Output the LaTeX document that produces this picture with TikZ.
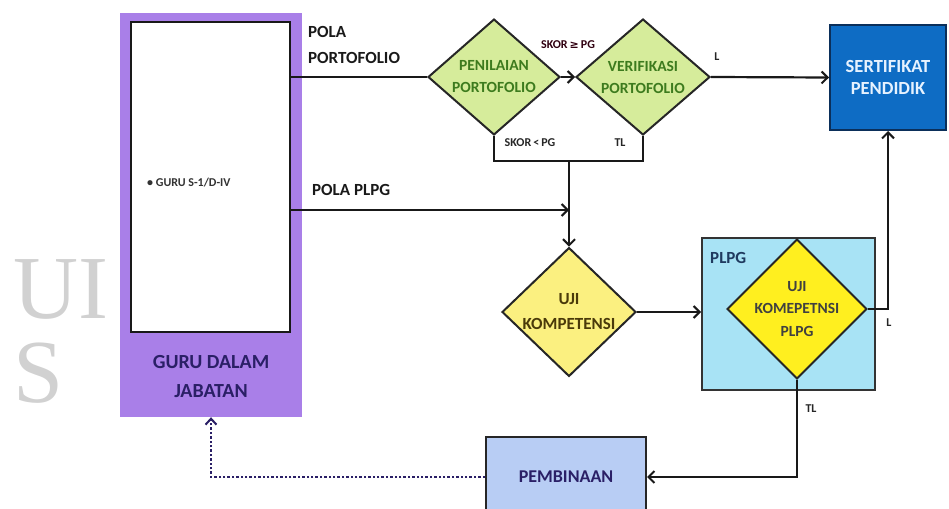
\documentclass[tikz,border=0pt]{standalone}
\usepackage{fontspec}
\setmainfont{Carlito}
\newfontfamily\symfont{DejaVu Sans}
\newfontfamily\wmfont{Liberation Serif}
\usetikzlibrary{shapes.geometric,arrows.meta}
\definecolor{purplebox}{HTML}{A97FE8}
\definecolor{navytext}{HTML}{2A1F66}
\definecolor{greenfill}{HTML}{D6EC9B}
\definecolor{greentext}{HTML}{3D7B1E}
\definecolor{yellowfill}{HTML}{FBF080}
\definecolor{yellowbright}{HTML}{FFEF1F}
\definecolor{olivetext}{HTML}{4A3A0A}
\definecolor{plpgfill}{HTML}{A8E3F5}
\definecolor{sertfill}{HTML}{0E6CC4}
\definecolor{sertborder}{HTML}{0B2F5A}
\definecolor{serttext}{HTML}{E6F2FF}
\definecolor{pembfill}{HTML}{B8CDF4}
\definecolor{plpgtext}{HTML}{1F3A5F}
\begin{document}
\begin{tikzpicture}[x=1pt,y=-1pt,
  conn/.style={line width=2.2pt, draw=black!90},
  arr/.style={conn, -{Straight Barb[length=6pt,width=12pt,line width=2pt]}},
  dotarr/.style={line width=2.4pt, draw=navytext, dotted, -{Straight Barb[length=6pt,width=11pt,line width=2pt]}},
  dia/.style={diamond, draw=black!85, line width=2pt, inner sep=0pt, align=center},
  lbl/.style={font=\bfseries\fontsize{12}{14}\selectfont, inner sep=0pt, text=black!85},
  bigtext/.style={font=\bfseries\fontsize{17}{26}\selectfont, inner sep=0pt, align=left, text=black!90},
  wm/.style={font=\wmfont\fontsize{90}{90}\selectfont, text=black!18, inner sep=0pt, anchor=base west, text depth=0pt, text height=60pt}
]
\clip (0,0) rectangle (949,508);
% watermark
\node[wm] (wm1) at (13,318) {UI};
\node[wm] (wm2) at (13,402) {S};

% guru box
\node[fill=purplebox, minimum width=182pt, minimum height=404pt, inner sep=0pt] (guru) at (211,215) {};
\node[fill=white, draw=black!90, line width=2pt, minimum width=159pt, minimum height=310pt, inner sep=0pt] (inner) at (210.5,177) {};
\node[font=\bfseries\fontsize{12}{14}\selectfont, text=black!80, anchor=west, inner sep=0pt] (gurus1) at (147,183) {\textbullet\ GURU S-1/D-IV};
\node[font=\bfseries\fontsize{20}{29}\selectfont, text=navytext, align=center, inner sep=0pt] (gurudj) at (211,377) {GURU DALAM\\JABATAN};

% top row diamonds
\node[dia, fill=greenfill, text=greentext, minimum width=132pt, minimum height=108pt, font=\bfseries\fontsize{15.5}{22}\selectfont] (pen) at (494,77) {PENILAIAN\\PORTOFOLIO};
\node[dia, fill=greenfill, text=greentext, minimum width=134pt, minimum height=110pt, font=\bfseries\fontsize{15.5}{22}\selectfont] (ver) at (643,77) {VERIFIKASI\\PORTOFOLIO};

% sertifikat
\node[fill=sertfill, draw=sertborder, line width=2pt, minimum width=116pt, minimum height=105pt, inner sep=0pt, align=center, text=serttext, font=\bfseries\fontsize{18.5}{22}\selectfont] (sert) at (888,77.5) {SERTIFIKAT\\PENDIDIK};

% uji kompetensi
\node[dia, fill=yellowfill, text=olivetext, minimum width=134pt, minimum height=118pt, font=\bfseries\fontsize{17}{25}\selectfont] (uji) at (569,312) {UJI\\KOMPETENSI};

% PLPG box
\node[fill=plpgfill, draw=black!80, line width=2pt, minimum width=173pt, minimum height=152pt, inner sep=0pt] (plpg) at (788.5,314) {};
\node[font=\bfseries\fontsize{17}{18}\selectfont, text=plpgtext, anchor=west, inner sep=0pt] (plpglbl) at (710,258) {PLPG};
\node[dia, fill=yellowbright, text=black!75, minimum width=128pt, minimum height=122pt, font=\bfseries\fontsize{15.5}{22.5}\selectfont] (pdia) at (797,309) {UJI\\KOMEPETNSI\\PLPG};

% pembinaan
\node[fill=pembfill, draw=black!85, line width=2pt, minimum width=160pt, minimum height=80pt, inner sep=0pt, text=navytext, font=\bfseries\fontsize{18}{20}\selectfont] (pemb) at (566,477) {PEMBINAAN};

% labels
\node[bigtext, anchor=west] (lpp) at (308,45) {POLA\\PORTOFOLIO};
\node[bigtext, anchor=west] (lplpg) at (312,190) {POLA PLPG};
\node[lbl, text=black!75!purple] (skge) at (568,45) {SKOR\,{\symfont\fontsize{11}{13}\selectfont ≥}\,PG};
\node[lbl] (l1) at (717,57) {L};
\node[lbl] (sklt) at (530,143) {SKOR\,<\,PG};
\node[lbl] (tl1) at (620,143) {TL};
\node[lbl] (l2) at (889,323) {L};
\node[lbl] (tl2) at (811,409) {TL};

% connectors
\coordinate (junc) at (569,161);
\coordinate (plpgend) at (569,210);
\draw[conn] (inner.east |- pen.west) -- (pen.west);
\draw[arr] (pen.east) -- (ver.west);
\draw[arr] (ver.east) -- (sert.west);
\draw[conn] (pen.south) -- (pen.south |- junc) -- (ver.south |- junc) -- (ver.south);
\draw[arr] (inner.east |- plpgend) -- (plpgend);
\draw[arr] (junc) -- (uji.north);
\draw[arr] (uji.east) -- (plpg.west |- uji.east);
\draw[arr] (pdia.east) -| (sert.south);
\draw[arr] (pdia.south) |- (pemb.east);
\draw[dotarr] (pemb.west) -| (guru.south);
\end{tikzpicture}
\end{document}
